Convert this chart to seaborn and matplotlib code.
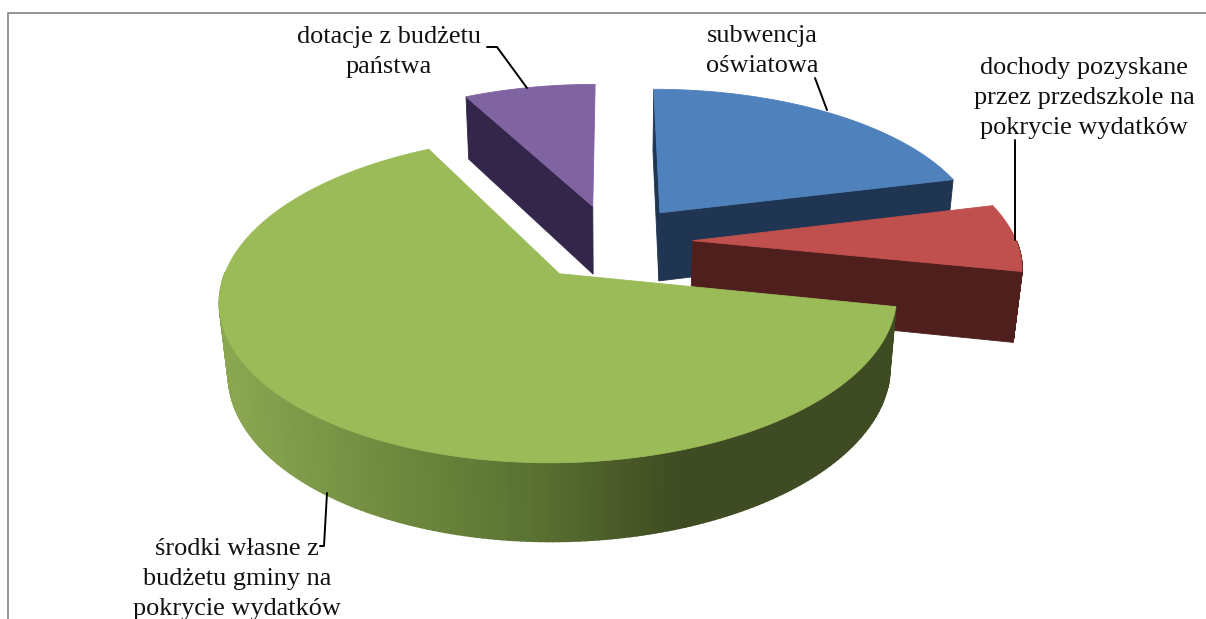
import numpy as np
import matplotlib
matplotlib.use("Agg")
import matplotlib.pyplot as plt
import seaborn as sns

# udzial zrodel finansowania, w procentach
labels = ["subwencja\noświatowa",
          "dochody pozyskane\nprzez przedszkole na\npokrycie wydatków",
          "środki własne z\nbudżetu gminy na\npokrycie wydatków",
          "dotacje z budżetu\npaństwa"]
values = [21.1, 7.1, 64.1, 7.7]
explode = [0.25, 0.25, 0.26, 0.25]
top_colors = ["#4f81bd", "#c0504d", "#9bbb59", "#8064a2"]
side_colors = ["#1f3552", "#4f1f1e", "#3f4d22", "#33264a"]
draw_order = [3, 0, 1, 2]
rim_shades = ["#8aa651", "#718c40", "#5a7232", "#3f4b22"]

# kamera: srodek, promienie, perspektywa, grubosc
cx, cy, rx, ry, k, q, h = 611.5, 241.5, 324, 150, 0.15, 0.022, 71

sns.set_theme(style="white")
plt.rcParams["font.family"] = ["Liberation Serif", "DejaVu Serif"]


def project(u, v, d=0.0):
    w = 1 + k * v + q * d
    return cx + rx * u / w, cy + (-ry * v + h * d) / w


fig = plt.figure(figsize=(12.06, 6.19), dpi=100)
ax = fig.add_axes([0, 0, 1, 1])
ax.set_xlim(0, 1206)
ax.set_ylim(619, 0)
ax.axis("off")

# ramka wykresu
ax.plot([7.5, 7.5, 1206], [619, 12.5, 12.5], color="#8c8c8c", lw=1.3)

edges = np.cumsum([0] + values) / sum(values) * 2 * np.pi
rim_cmap = sns.blend_palette(rim_shades, as_cmap=True)

for n, i in enumerate(draw_order):
    t0, t1 = edges[i], edges[i + 1]
    mid = (t0 + t1) / 2
    ou, ov = explode[i] * np.sin(mid), explode[i] * np.cos(mid)
    t = np.linspace(t0, t1, 240)
    ru, rv = ou + np.sin(t), ov + np.cos(t)

    # bok zewnetrzny
    xa, ya = project(ru, rv, 0)
    xb, yb = project(ru, rv, 1)
    for j in range(len(t) - 1):
        if np.cos(t[j]) > 0:
            continue
        if i == 2:
            c = rim_cmap(np.clip((xa[j] - 230) / 453, 0, 1))
        else:
            c = side_colors[i]
        ax.fill([xa[j], xa[j + 1], xb[j + 1], xb[j]],
                [ya[j], ya[j + 1], yb[j + 1], yb[j]],
                color=c, lw=1.2, zorder=n * 10 + 1)

    # sciany przekroju widoczne od przodu
    for te, start in [(t0, True), (t1, False)]:
        s = np.sin(te)
        if (start and s <= 0) or (not start and s > 0):
            eu, ev = ou + np.sin(te), ov + np.cos(te)
            x0, y0 = project(ou, ov, 0)
            x1, y1 = project(eu, ev, 0)
            x2, y2 = project(eu, ev, 1)
            x3, y3 = project(ou, ov, 1)
            ax.fill([x0, x1, x2, x3], [y0, y1, y2, y3], color=side_colors[i],
                    lw=0.6, zorder=n * 10 + 2)

    # wierzch wycinka
    xt, yt = project(np.r_[ou, ru], np.r_[ov, rv], 0)
    ax.fill(xt, yt, color=top_colors[i], lw=0.6, zorder=n * 10 + 3)

# linie odniesienia
leaders = [([815, 827], [78, 110]),
           ([1015, 1015], [140, 240]),
           ([320, 324, 327], [546, 546, 493]),
           ([487, 497, 527], [47, 47, 88])]
for lx, ly in leaders:
    ax.plot(lx, ly, color="black", lw=1.4, zorder=50)

label_pos = [(762, 51), (1084, 98), (237, 579), (389, 52)]
for txt, (tx, ty) in zip(labels, label_pos):
    ax.text(tx, ty, txt, ha="center", va="center", fontsize=18.9,
            color="#111111", linespacing=1.47, zorder=60)

fig.savefig("out.png", dpi=100)
